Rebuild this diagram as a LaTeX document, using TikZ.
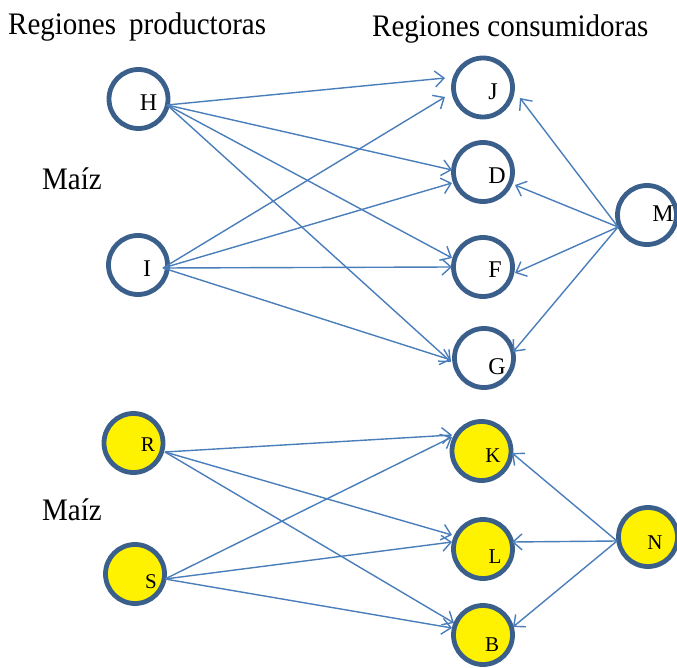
\documentclass[tikz,border=0pt]{standalone}
\usepackage{fontspec}
\setmainfont{Liberation Serif}
\usetikzlibrary{arrows.meta}
\definecolor{ring}{HTML}{3A5F8B}
\definecolor{edgecol}{HTML}{4A7EBB}
\begin{document}
\begin{tikzpicture}[x=1pt,y=-1pt,
  region/.style={circle,draw=ring,line width=4.8pt,minimum size=59pt,inner sep=0pt},
  prod/.style={region,fill=white},
  yel/.style={region,fill=yellow},
  lab/.style={font=\fontsize{24}{24}\selectfont,inner sep=0pt},
  slab/.style={font=\fontsize{21}{21}\selectfont,inner sep=0pt},
  flow/.style={draw=edgecol,line width=1.4pt,-{Straight Barb[length=9pt,width=16pt]}},
  title/.style={font=\fontsize{29}{29}\selectfont,anchor=base west,inner sep=0pt,yscale=1.08}]
\useasboundingbox (0,0) rectangle (677,668);

% titles
\node[title] (t1) at (8,35) {Regiones\hspace{0.45em}productoras};
\node[title] (t2) at (372,37) {Regiones consumidoras};
\node[title] (m1) at (42,190) {Maíz};
\node[title] (m2) at (42,520) {Maíz};

% top circles
\node[prod] (H) at (138.5,99) {};
\node[prod] (I) at (138,265) {};
\node[prod] (J) at (483,87.5) {};
\node[prod] (D) at (483,172) {};
\node[prod] (F) at (483,267) {};
\node[prod] (G) at (484,358) {};
\node[prod] (M) at (647,215) {};
% bottom circles
\node[yel] (R) at (133.5,443) {};
\node[yel] (S) at (135,574) {};
\node[yel] (K) at (481.5,451) {};
\node[yel] (L) at (483,549) {};
\node[yel] (B) at (483,635) {};
\node[yel] (N) at (648,537) {};

% labels
\node[lab] (Hl) at (148.5,102.5) {H};
\node[lab] (Il) at (147,269) {I};
\node[lab] (Jl) at (493,92) {J};
\node[lab] (Dl) at (497,176) {D};
\node[lab] (Fl) at (495,270) {F};
\node[lab] (Gl) at (497,367) {G};
\node[lab] (Ml) at (663,214) {M};
\node[slab] (Rl) at (148,445) {R};
\node[slab] (Sl) at (151,582) {S};
\node[slab] (Kl) at (493,456) {K};
\node[slab] (Ll) at (495,557) {L};
\node[slab] (Bl) at (492,645) {B};
\node[slab] (Nl) at (655,543) {N};

% connector end points
\coordinate (Ho) at (167,105);
\coordinate (Io) at (163,268);
\coordinate (Mo) at (618,227);
\coordinate (Ro) at (165,452);
\coordinate (So) at (165,579);
\coordinate (No) at (617,541);

\coordinate (HJ) at (445,78);
\coordinate (IJ) at (445,97);
\coordinate (HD) at (452,170);
\coordinate (ID) at (452,183);
\coordinate (HF) at (452,258);
\coordinate (IF) at (452,267);
\coordinate (HG) at (451,362);
\coordinate (IG) at (451,360);
\coordinate (MJ) at (520,98);
\coordinate (MD) at (515,185);
\coordinate (MF) at (515,273);
\coordinate (MG) at (513,352);

\coordinate (RK) at (452,435);
\coordinate (SK) at (452,437);
\coordinate (RL) at (452,535);
\coordinate (SL) at (452,542);
\coordinate (RB) at (454,623);
\coordinate (SB) at (452,628);
\coordinate (NK) at (512,453);
\coordinate (NL) at (512,542);
\coordinate (NB) at (513,627);

\draw[flow] (Ho) -- (HJ);
\draw[flow] (Ho) -- (HD);
\draw[flow] (Ho) -- (HF);
\draw[flow] (Ho) -- (HG);
\draw[flow] (Io) -- (IJ);
\draw[flow] (Io) -- (ID);
\draw[flow] (Io) -- (IF);
\draw[flow] (Io) -- (IG);
\draw[flow] (Mo) -- (MJ);
\draw[flow] (Mo) -- (MD);
\draw[flow] (Mo) -- (MF);
\draw[flow] (Mo) -- (MG);

\draw[flow] (Ro) -- (RK);
\draw[flow] (Ro) -- (RL);
\draw[flow] (Ro) -- (RB);
\draw[flow] (So) -- (SK);
\draw[flow] (So) -- (SL);
\draw[flow] (So) -- (SB);
\draw[flow] (No) -- (NK);
\draw[flow] (No) -- (NL);
\draw[flow] (No) -- (NB);
\end{tikzpicture}
\end{document}
